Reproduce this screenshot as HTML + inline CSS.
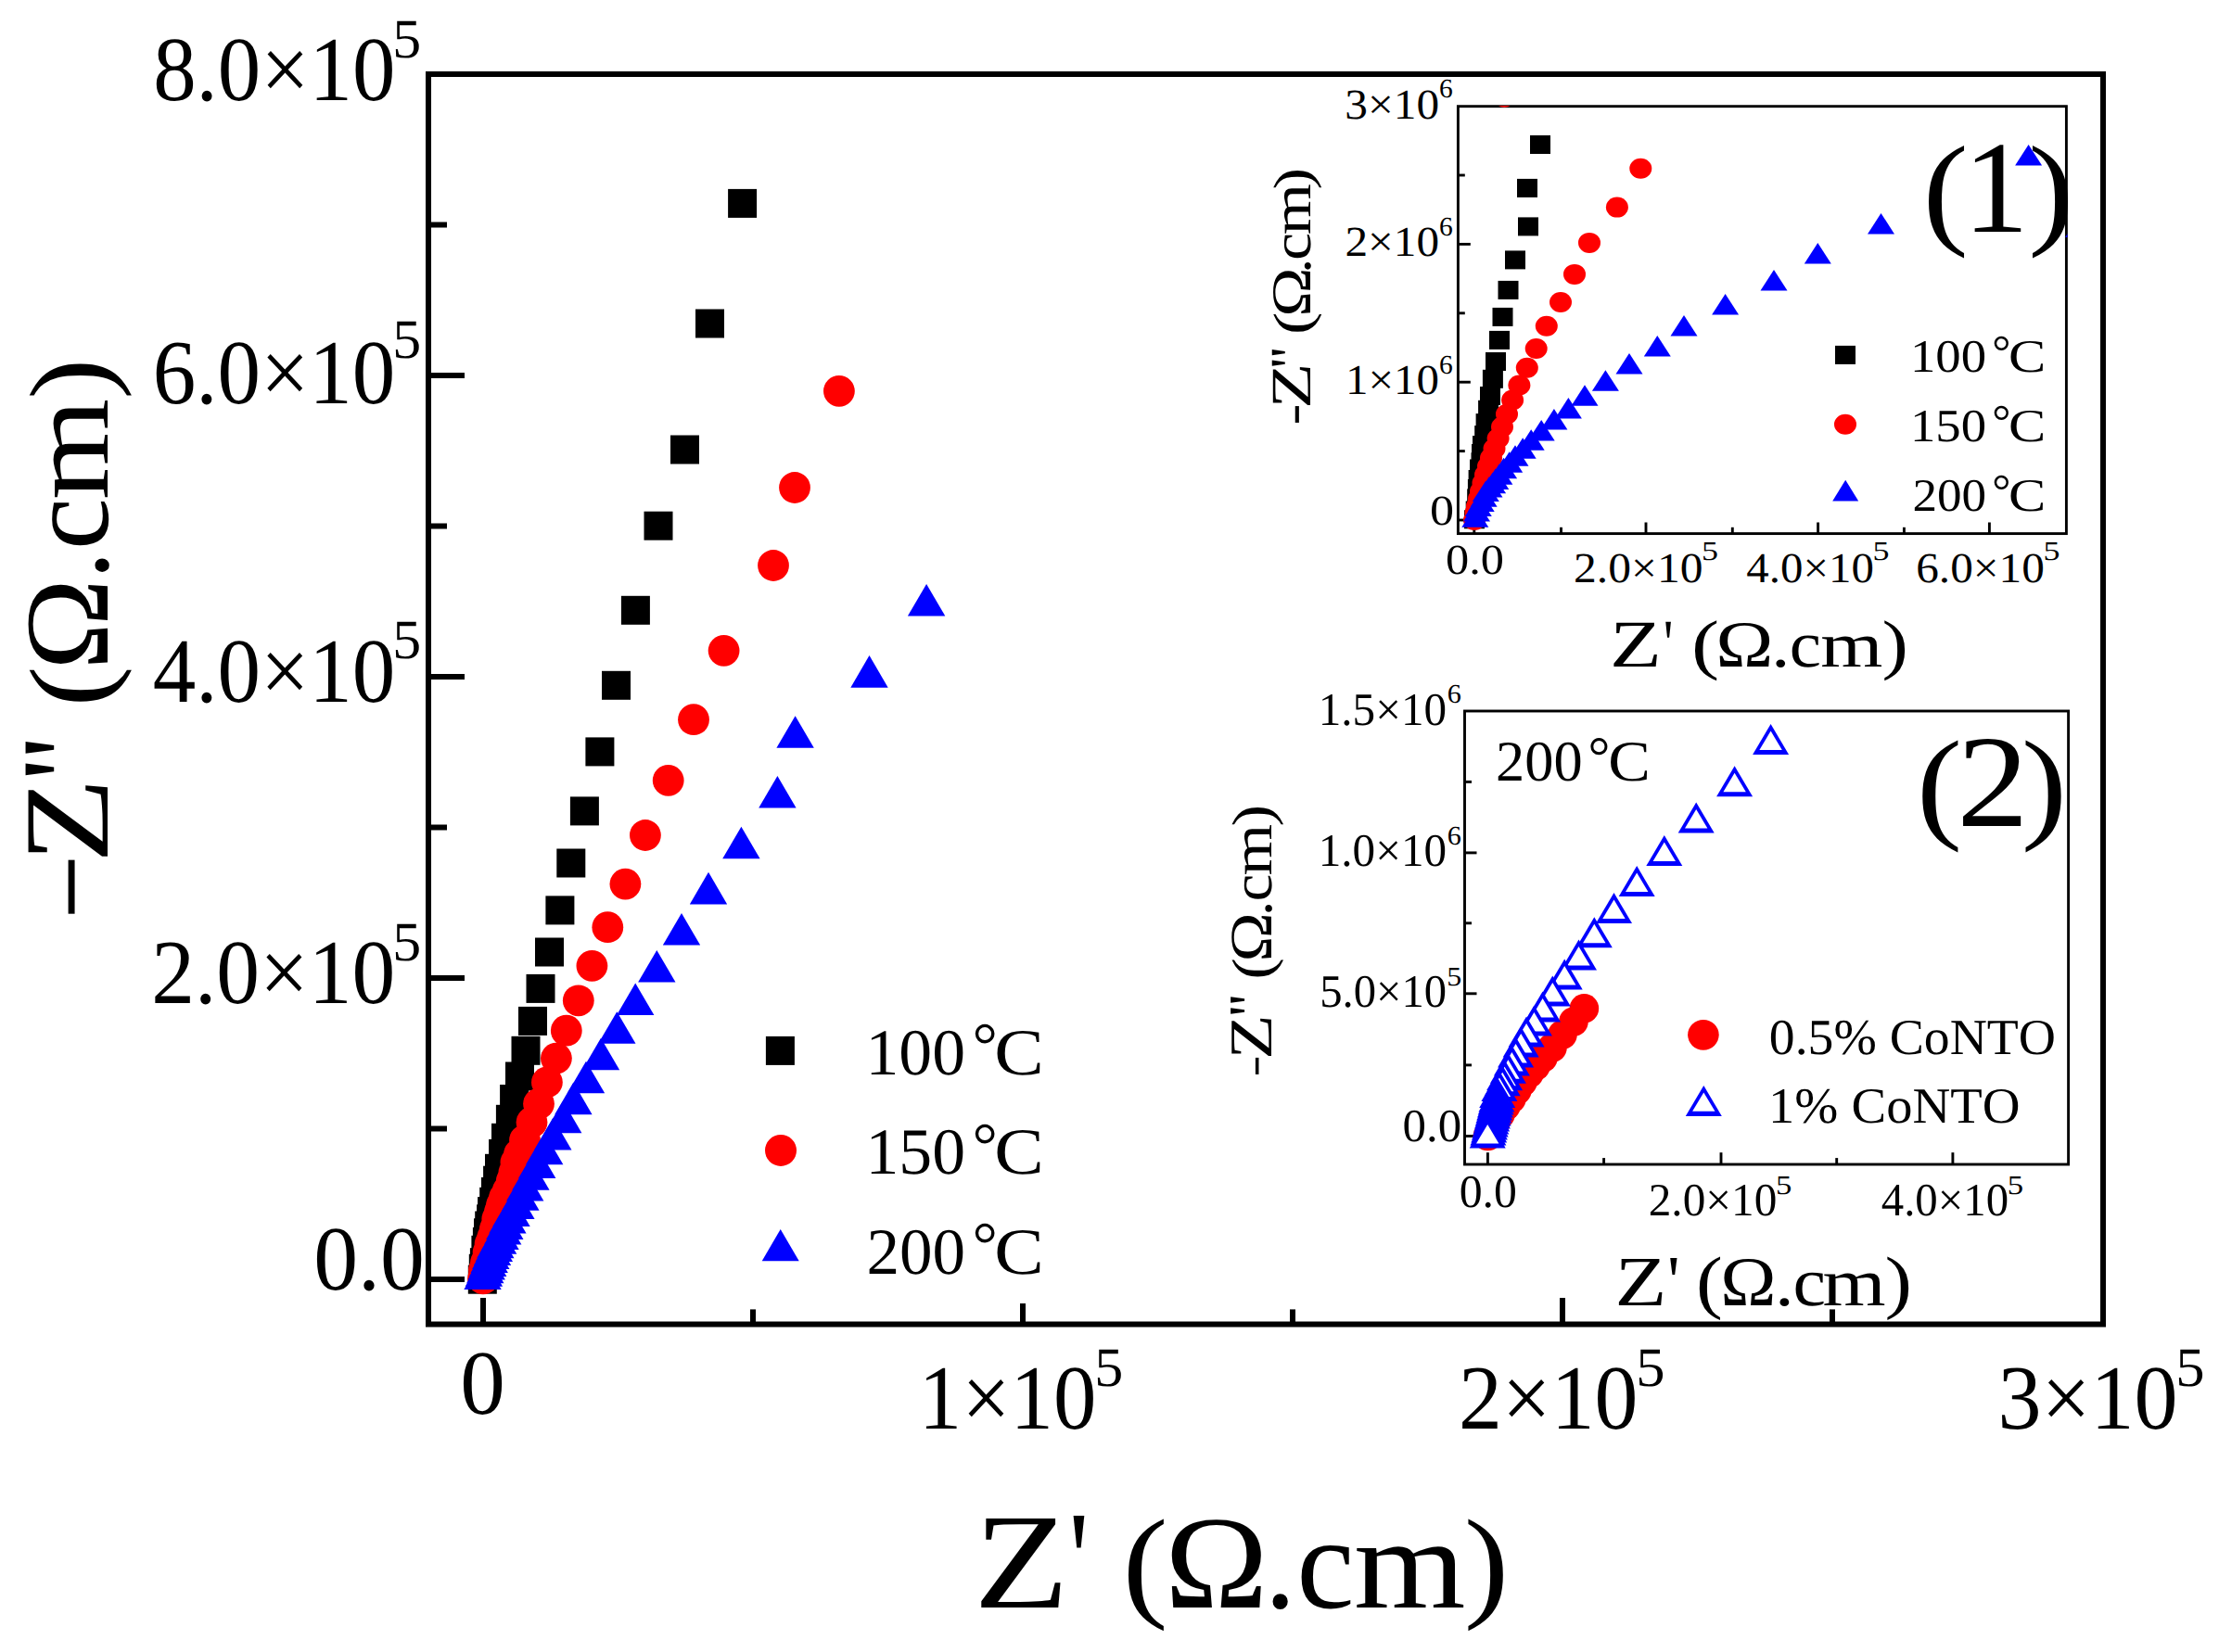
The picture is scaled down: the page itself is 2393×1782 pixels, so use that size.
<!DOCTYPE html>
<html><head><meta charset="utf-8"><title>Nyquist plot</title><style>html,body{margin:0;padding:0;background:#fff}</style></head><body>
<svg width="2393" height="1782" viewBox="0 0 2393 1782" style="display:block;font-family:'Liberation Serif',serif;font-kerning:none" text-rendering="geometricPrecision"><rect width="100%" height="100%" fill="#fff"/><rect x="462" y="80" width="1806" height="1348.5" fill="none" stroke="#000" stroke-width="6"/>
<line x1="462" y1="1380" x2="501" y2="1380" stroke="#000" stroke-width="6"/>
<line x1="462" y1="1055" x2="501" y2="1055" stroke="#000" stroke-width="6"/>
<line x1="462" y1="730" x2="501" y2="730" stroke="#000" stroke-width="6"/>
<line x1="462" y1="405" x2="501" y2="405" stroke="#000" stroke-width="6"/>
<line x1="462" y1="1217.5" x2="482" y2="1217.5" stroke="#000" stroke-width="6"/>
<line x1="462" y1="892.5" x2="482" y2="892.5" stroke="#000" stroke-width="6"/>
<line x1="462" y1="567.5" x2="482" y2="567.5" stroke="#000" stroke-width="6"/>
<line x1="462" y1="242.5" x2="482" y2="242.5" stroke="#000" stroke-width="6"/>
<line x1="521" y1="1428" x2="521" y2="1400" stroke="#000" stroke-width="6"/>
<line x1="1103" y1="1428" x2="1103" y2="1406" stroke="#000" stroke-width="6"/>
<line x1="1685" y1="1428" x2="1685" y2="1400" stroke="#000" stroke-width="6"/>
<line x1="812" y1="1428" x2="812" y2="1412.4" stroke="#000" stroke-width="6"/>
<line x1="1394" y1="1428" x2="1394" y2="1412.4" stroke="#000" stroke-width="6"/>
<line x1="1976" y1="1428" x2="1976" y2="1412.4" stroke="#000" stroke-width="6"/>
<text><tspan x="165.17" y="108.30" font-size="99.00" textLength="261.17" lengthAdjust="spacingAndGlyphs">8.0×10</tspan><tspan x="423.31" y="61.50" font-size="60.00" textLength="30.91" lengthAdjust="spacingAndGlyphs">5</tspan></text>
<text><tspan x="164.70" y="434.50" font-size="99.00" textLength="261.64" lengthAdjust="spacingAndGlyphs">6.0×10</tspan><tspan x="423.31" y="386.30" font-size="60.00" textLength="30.91" lengthAdjust="spacingAndGlyphs">5</tspan></text>
<text><tspan x="164.68" y="757.30" font-size="99.00" textLength="261.66" lengthAdjust="spacingAndGlyphs">4.0×10</tspan><tspan x="423.31" y="710.00" font-size="60.00" textLength="30.91" lengthAdjust="spacingAndGlyphs">5</tspan></text>
<text><tspan x="163.19" y="1082.30" font-size="99.00" textLength="263.17" lengthAdjust="spacingAndGlyphs">2.0×10</tspan><tspan x="423.31" y="1035.60" font-size="60.00" textLength="30.91" lengthAdjust="spacingAndGlyphs">5</tspan></text>
<text><tspan x="338.16" y="1390.80" font-size="99.00" textLength="119.59" lengthAdjust="spacingAndGlyphs">0.0</tspan></text>
<text><tspan x="496.20" y="1525.00" font-size="99.00" textLength="48.60" lengthAdjust="spacingAndGlyphs">0</tspan></text>
<text><tspan x="990.85" y="1540.80" font-size="99.00" textLength="191.49" lengthAdjust="spacingAndGlyphs">1×10</tspan><tspan x="1180.39" y="1495.40" font-size="60.00" textLength="31.03" lengthAdjust="spacingAndGlyphs">5</tspan></text>
<text><tspan x="1572.88" y="1540.80" font-size="99.00" textLength="193.59" lengthAdjust="spacingAndGlyphs">2×10</tspan><tspan x="1764.37" y="1495.40" font-size="60.00" textLength="31.28" lengthAdjust="spacingAndGlyphs">5</tspan></text>
<text><tspan x="2154.50" y="1540.80" font-size="99.00" textLength="194.08" lengthAdjust="spacingAndGlyphs">3×10</tspan><tspan x="2346.17" y="1495.40" font-size="60.00" textLength="31.28" lengthAdjust="spacingAndGlyphs">5</tspan></text>
<text><tspan x="1050.38" y="1733.60" font-size="146.60" textLength="102.39" lengthAdjust="spacingAndGlyphs">Z</tspan><tspan x="1152.49" y="1730.60" font-size="146.60" textLength="21.92" lengthAdjust="spacingAndGlyphs">'</tspan><tspan x="1173.72" y="1731.40" font-size="133.20" textLength="86.03" lengthAdjust="spacingAndGlyphs"> (</tspan><tspan x="1256.13" y="1733.60" font-size="143.00" textLength="111.54" lengthAdjust="spacingAndGlyphs">Ω</tspan><tspan x="1363.56" y="1733.60" font-size="143.00" textLength="34.27" lengthAdjust="spacingAndGlyphs">.</tspan><tspan x="1398.35" y="1733.60" font-size="142.00" textLength="62.38" lengthAdjust="spacingAndGlyphs">c</tspan><tspan x="1459.95" y="1733.60" font-size="139.50" textLength="120.58" lengthAdjust="spacingAndGlyphs">m</tspan><tspan x="1578.81" y="1731.40" font-size="133.20" textLength="48.49" lengthAdjust="spacingAndGlyphs">)</tspan></text>
<text transform="translate(116.00 986.00) rotate(-90)"><tspan x="-8.10" y="-16.60" font-size="93.00" textLength="74.48" lengthAdjust="spacingAndGlyphs">-</tspan><tspan x="55.10" y="0.00" font-size="130.50" textLength="91.93" lengthAdjust="spacingAndGlyphs">Z</tspan><tspan x="144.18" y="-3.00" font-size="130.50" textLength="47.33" lengthAdjust="spacingAndGlyphs">''</tspan><tspan x="190.50" y="0.00" font-size="121.50" textLength="76.95" lengthAdjust="spacingAndGlyphs"> (</tspan><tspan x="263.32" y="0.00" font-size="129.00" textLength="98.76" lengthAdjust="spacingAndGlyphs">Ω</tspan><tspan x="360.91" y="0.00" font-size="130.50" textLength="30.68" lengthAdjust="spacingAndGlyphs">.</tspan><tspan x="392.90" y="0.00" font-size="127.00" textLength="55.98" lengthAdjust="spacingAndGlyphs">c</tspan><tspan x="446.85" y="0.00" font-size="124.00" textLength="109.35" lengthAdjust="spacingAndGlyphs">m</tspan><tspan x="555.15" y="0.00" font-size="121.50" textLength="43.95" lengthAdjust="spacingAndGlyphs">)</tspan></text>
<g fill="#000"><rect x="785.1" y="203.9" width="31" height="31"/><rect x="750.0" y="333.5" width="31" height="31"/><rect x="723.0" y="469.5" width="31" height="31"/><rect x="694.5" y="551.7" width="31" height="31"/><rect x="669.9" y="642.8" width="31" height="31"/><rect x="649.0" y="723.8" width="31" height="31"/><rect x="631.4" y="795.4" width="31" height="31"/><rect x="614.9" y="859.4" width="31" height="31"/><rect x="600.3" y="915.5" width="31" height="31"/><rect x="588.4" y="966.4" width="31" height="31"/><rect x="577.0" y="1011.5" width="31" height="31"/><rect x="567.5" y="1050.9" width="31" height="31"/><rect x="559.0" y="1085.9" width="31" height="31"/><rect x="551.5" y="1117.8" width="31" height="31"/><rect x="545.0" y="1145.5" width="31" height="31"/><rect x="539.1" y="1170.0" width="31" height="31"/><rect x="534.9" y="1191.8" width="31" height="31"/><rect x="530.0" y="1211.8" width="31" height="31"/><rect x="527.1" y="1228.9" width="31" height="31"/><rect x="523.0" y="1244.8" width="31" height="31"/><rect x="521.1" y="1257.7" width="31" height="31"/><rect x="519.0" y="1270.0" width="31" height="31"/><rect x="517.2" y="1280.8" width="31" height="31"/><rect x="515.1" y="1291.1" width="31" height="31"/><rect x="514.1" y="1299.3" width="31" height="31"/><rect x="512.2" y="1306.5" width="31" height="31"/><rect x="511.0" y="1314.3" width="31" height="31"/><rect x="509.9" y="1324.0" width="31" height="31"/><rect x="508.4" y="1332.8" width="31" height="31"/><rect x="506.9" y="1346.2" width="31" height="31"/><rect x="505.8" y="1352.8" width="31" height="31"/><rect x="504.8" y="1364.7" width="31" height="31"/></g>
<g fill="#f00"><ellipse cx="904.9" cy="421.9" rx="16.9" ry="16.9"/><ellipse cx="857.0" cy="526.0" rx="16.9" ry="16.9"/><ellipse cx="834.0" cy="610.0" rx="16.9" ry="16.9"/><ellipse cx="780.6" cy="701.9" rx="16.9" ry="16.9"/><ellipse cx="748.0" cy="776.2" rx="16.9" ry="16.9"/><ellipse cx="720.7" cy="841.9" rx="16.9" ry="16.9"/><ellipse cx="695.9" cy="901.0" rx="16.9" ry="16.9"/><ellipse cx="674.4" cy="953.6" rx="16.9" ry="16.9"/><ellipse cx="655.3" cy="1000.2" rx="16.9" ry="16.9"/><ellipse cx="638.4" cy="1041.9" rx="16.9" ry="16.9"/><ellipse cx="623.8" cy="1079.3" rx="16.9" ry="16.9"/><ellipse cx="610.8" cy="1111.7" rx="16.9" ry="16.9"/><ellipse cx="599.9" cy="1141.6" rx="16.9" ry="16.9"/><ellipse cx="589.9" cy="1167.4" rx="16.9" ry="16.9"/><ellipse cx="581.0" cy="1190.6" rx="16.9" ry="16.9"/><ellipse cx="573.5" cy="1210.6" rx="16.9" ry="16.9"/><ellipse cx="566.0" cy="1230.0" rx="16.9" ry="16.9"/><ellipse cx="560.0" cy="1245.0" rx="16.9" ry="16.9"/><ellipse cx="556.4" cy="1254.0" rx="16.9" ry="16.9"/><ellipse cx="554.4" cy="1265.0" rx="16.9" ry="16.9"/><ellipse cx="551.8" cy="1274.0" rx="16.9" ry="16.9"/><ellipse cx="547.7" cy="1284.5" rx="16.9" ry="16.9"/><ellipse cx="544.0" cy="1292.0" rx="16.9" ry="16.9"/><ellipse cx="541.0" cy="1300.0" rx="16.9" ry="16.9"/><ellipse cx="539.0" cy="1307.0" rx="16.9" ry="16.9"/><ellipse cx="536.3" cy="1315.0" rx="16.9" ry="16.9"/><ellipse cx="533.8" cy="1326.0" rx="16.9" ry="16.9"/><ellipse cx="531.2" cy="1335.0" rx="16.9" ry="16.9"/><ellipse cx="528.6" cy="1342.0" rx="16.9" ry="16.9"/><ellipse cx="526.6" cy="1351.0" rx="16.9" ry="16.9"/><ellipse cx="524.0" cy="1362.0" rx="16.9" ry="16.9"/><ellipse cx="522.0" cy="1370.0" rx="16.9" ry="16.9"/><ellipse cx="521.0" cy="1379.4" rx="16.9" ry="16.9"/></g>
<g fill="#00f"><path d="M999.1 629.9L978.9 664.5L1019.3 664.5Z"/><path d="M937.5 707.1L917.3 741.7L957.7 741.7Z"/><path d="M857.6 772.2L837.4 806.8L877.8 806.8Z"/><path d="M838.4 837.0L818.2 871.6L858.6 871.6Z"/><path d="M799.4 891.7L779.2 926.3L819.6 926.3Z"/><path d="M764.0 940.8L743.8 975.4L784.2 975.4Z"/><path d="M735.0 985.0L714.8 1019.6L755.2 1019.6Z"/><path d="M708.3 1025.0L688.1 1059.6L728.5 1059.6Z"/><path d="M685.2 1060.4L665.0 1095.0L705.4 1095.0Z"/><path d="M665.3 1091.2L645.1 1125.8L685.5 1125.8Z"/><path d="M648.0 1119.7L627.8 1154.3L668.2 1154.3Z"/><path d="M632.0 1144.7L611.8 1179.3L652.2 1179.3Z"/><path d="M618.4 1167.6L598.2 1202.2L638.6 1202.2Z"/><path d="M607.2 1187.6L587.0 1222.2L627.4 1222.2Z"/><path d="M596.3 1205.8L576.1 1240.4L616.5 1240.4Z"/><path d="M587.2 1221.7L567.0 1256.3L607.4 1256.3Z"/><path d="M579.2 1236.4L559.0 1271.0L599.4 1271.0Z"/><path d="M572.4 1249.2L552.2 1283.8L592.6 1283.8Z"/><path d="M566.2 1261.0L546.0 1295.6L586.4 1295.6Z"/><path d="M561.4 1271.1L541.2 1305.7L581.6 1305.7Z"/><path d="M556.4 1280.4L536.2 1315.0L576.6 1315.0Z"/><path d="M551.5 1288.3L531.3 1322.9L571.7 1322.9Z"/><path d="M547.4 1296.0L527.2 1330.6L567.6 1330.6Z"/><path d="M544.3 1302.5L524.1 1337.1L564.5 1337.1Z"/><path d="M542.2 1307.9L522.0 1342.5L562.4 1342.5Z"/><path d="M539.5 1313.3L519.3 1347.9L559.7 1347.9Z"/><path d="M537.1 1318.1L516.9 1352.7L557.3 1352.7Z"/><path d="M534.3 1322.6L514.1 1357.2L554.5 1357.2Z"/><path d="M532.8 1326.4L512.6 1361.0L553.0 1361.0Z"/><path d="M531.0 1330.5L510.8 1365.1L551.2 1365.1Z"/><path d="M529.3 1334.5L509.1 1369.1L549.5 1369.1Z"/><path d="M527.7 1338.5L507.5 1373.1L547.9 1373.1Z"/><path d="M526.2 1342.3L506.0 1376.9L546.4 1376.9Z"/><path d="M524.7 1346.0L504.5 1380.6L544.9 1380.6Z"/><path d="M523.3 1349.6L503.1 1384.2L543.5 1384.2Z"/><path d="M521.9 1353.1L501.7 1387.7L542.1 1387.7Z"/><path d="M520.5 1356.5L500.3 1391.1L540.7 1391.1Z"/></g>
<g fill="#000"><rect x="825.9" y="1117.9" width="31" height="31"/></g>
<g fill="#f00"><ellipse cx="842.0" cy="1240.9" rx="17" ry="17"/></g>
<g fill="#00f"><path d="M841.7 1326.1L821.7 1360.2L861.7 1360.2Z"/></g>
<text><tspan x="933.50" y="1159.00" font-size="71.00" textLength="107.53" lengthAdjust="spacingAndGlyphs">100</tspan><tspan x="1048.53" y="1150.30" font-size="68.00" textLength="27.30" lengthAdjust="spacingAndGlyphs">°</tspan><tspan x="1072.21" y="1159.00" font-size="71.00" textLength="53.52" lengthAdjust="spacingAndGlyphs">C</tspan></text>
<text><tspan x="933.50" y="1266.35" font-size="71.00" textLength="107.53" lengthAdjust="spacingAndGlyphs">150</tspan><tspan x="1048.53" y="1257.65" font-size="68.00" textLength="27.30" lengthAdjust="spacingAndGlyphs">°</tspan><tspan x="1072.21" y="1266.35" font-size="71.00" textLength="53.52" lengthAdjust="spacingAndGlyphs">C</tspan></text>
<text><tspan x="934.38" y="1373.70" font-size="71.00" textLength="106.63" lengthAdjust="spacingAndGlyphs">200</tspan><tspan x="1048.53" y="1365.00" font-size="68.00" textLength="27.30" lengthAdjust="spacingAndGlyphs">°</tspan><tspan x="1072.21" y="1373.70" font-size="71.00" textLength="53.52" lengthAdjust="spacingAndGlyphs">C</tspan></text>
<rect x="1572.4" y="114.7" width="656" height="460.9" fill="#fff" stroke="#000" stroke-width="2.9"/>
<line x1="1572.4" y1="561" x2="1585.8" y2="561" stroke="#000" stroke-width="2.9"/>
<line x1="1572.4" y1="412.2" x2="1585.8" y2="412.2" stroke="#000" stroke-width="2.9"/>
<line x1="1572.4" y1="263.4" x2="1585.8" y2="263.4" stroke="#000" stroke-width="2.9"/>
<line x1="1572.4" y1="486.6" x2="1579.8" y2="486.6" stroke="#000" stroke-width="2.9"/>
<line x1="1572.4" y1="337.8" x2="1579.8" y2="337.8" stroke="#000" stroke-width="2.9"/>
<line x1="1572.4" y1="189" x2="1579.8" y2="189" stroke="#000" stroke-width="2.9"/>
<line x1="1589.8" y1="575.6" x2="1589.8" y2="563.5" stroke="#000" stroke-width="2.9"/>
<line x1="1775" y1="575.6" x2="1775" y2="563.5" stroke="#000" stroke-width="2.9"/>
<line x1="1960.6" y1="575.6" x2="1960.6" y2="563.5" stroke="#000" stroke-width="2.9"/>
<line x1="2145.4" y1="575.6" x2="2145.4" y2="563.5" stroke="#000" stroke-width="2.9"/>
<line x1="1683.5" y1="575.6" x2="1683.5" y2="568.8" stroke="#000" stroke-width="2.9"/>
<line x1="1868.3" y1="575.6" x2="1868.3" y2="568.8" stroke="#000" stroke-width="2.9"/>
<line x1="2053.4" y1="575.6" x2="2053.4" y2="568.8" stroke="#000" stroke-width="2.9"/>
<text><tspan x="1450.24" y="127.60" font-size="46.00" textLength="101.84" lengthAdjust="spacingAndGlyphs">3×10</tspan><tspan x="1552.03" y="105.40" font-size="29.00" textLength="14.75" lengthAdjust="spacingAndGlyphs">6</tspan></text>
<text><tspan x="1450.44" y="276.40" font-size="46.00" textLength="101.64" lengthAdjust="spacingAndGlyphs">2×10</tspan><tspan x="1552.03" y="254.20" font-size="29.00" textLength="14.75" lengthAdjust="spacingAndGlyphs">6</tspan></text>
<text><tspan x="1451.00" y="425.20" font-size="46.00" textLength="101.07" lengthAdjust="spacingAndGlyphs">1×10</tspan><tspan x="1552.03" y="403.00" font-size="29.00" textLength="14.75" lengthAdjust="spacingAndGlyphs">6</tspan></text>
<text><tspan x="1541.91" y="565.60" font-size="46.00" textLength="26.07" lengthAdjust="spacingAndGlyphs">0</tspan></text>
<text><tspan x="1558.98" y="619.40" font-size="46.00" textLength="62.94" lengthAdjust="spacingAndGlyphs">0.0</tspan></text>
<text><tspan x="1697.02" y="628.00" font-size="46.00" textLength="139.47" lengthAdjust="spacingAndGlyphs">2.0×10</tspan><tspan x="1835.01" y="603.60" font-size="29.00" textLength="18.00" lengthAdjust="spacingAndGlyphs">5</tspan></text>
<text><tspan x="1883.35" y="628.00" font-size="46.00" textLength="137.52" lengthAdjust="spacingAndGlyphs">4.0×10</tspan><tspan x="2019.41" y="603.60" font-size="29.00" textLength="18.00" lengthAdjust="spacingAndGlyphs">5</tspan></text>
<text><tspan x="2066.18" y="628.00" font-size="46.00" textLength="138.70" lengthAdjust="spacingAndGlyphs">6.0×10</tspan><tspan x="2203.41" y="603.60" font-size="29.00" textLength="18.00" lengthAdjust="spacingAndGlyphs">5</tspan></text>
<text><tspan x="1735.92" y="719.00" font-size="72.00" textLength="55.88" lengthAdjust="spacingAndGlyphs">Z</tspan><tspan x="1793.71" y="718.00" font-size="72.00" textLength="10.68" lengthAdjust="spacingAndGlyphs">'</tspan><tspan x="1801.35" y="719.00" font-size="71.60" textLength="52.66" lengthAdjust="spacingAndGlyphs"> (</tspan><tspan x="1850.37" y="719.00" font-size="71.10" textLength="62.16" lengthAdjust="spacingAndGlyphs">Ω</tspan><tspan x="1910.09" y="719.00" font-size="71.00" textLength="20.52" lengthAdjust="spacingAndGlyphs">.</tspan><tspan x="1929.86" y="719.00" font-size="71.00" textLength="34.21" lengthAdjust="spacingAndGlyphs">c</tspan><tspan x="1963.19" y="719.00" font-size="69.00" textLength="67.16" lengthAdjust="spacingAndGlyphs">m</tspan><tspan x="2029.55" y="719.00" font-size="71.60" textLength="28.40" lengthAdjust="spacingAndGlyphs">)</tspan></text>
<text transform="translate(1413.10 456.00) rotate(-90)"><tspan x="-2.46" y="-0.90" font-size="56.00" textLength="22.95" lengthAdjust="spacingAndGlyphs">-</tspan><tspan x="15.34" y="0.00" font-size="61.40" textLength="49.27" lengthAdjust="spacingAndGlyphs">Z</tspan><tspan x="58.40" y="-1.80" font-size="60.00" textLength="23.21" lengthAdjust="spacingAndGlyphs">''</tspan><tspan x="76.80" y="0.00" font-size="57.30" textLength="42.45" lengthAdjust="spacingAndGlyphs"> (</tspan><tspan x="114.29" y="0.00" font-size="60.40" textLength="53.21" lengthAdjust="spacingAndGlyphs">Ω</tspan><tspan x="160.90" y="0.00" font-size="60.00" textLength="16.29" lengthAdjust="spacingAndGlyphs">.</tspan><tspan x="175.34" y="0.00" font-size="59.70" textLength="29.83" lengthAdjust="spacingAndGlyphs">c</tspan><tspan x="202.81" y="0.00" font-size="59.70" textLength="55.20" lengthAdjust="spacingAndGlyphs">m</tspan><tspan x="251.62" y="0.00" font-size="57.30" textLength="23.60" lengthAdjust="spacingAndGlyphs">)</tspan></text>
<text><tspan x="2073.50" y="249.80" font-size="134.00" textLength="49.27" lengthAdjust="spacingAndGlyphs">(</tspan><tspan x="2117.22" y="249.80" font-size="142.00" textLength="70.44" lengthAdjust="spacingAndGlyphs">1</tspan><tspan x="2187.23" y="249.80" font-size="134.00" textLength="49.27" lengthAdjust="spacingAndGlyphs">)</tspan></text>
<clipPath id="c1"><rect x="1572.4" y="114.1" width="657.1" height="461.5"/></clipPath>
<g clip-path="url(#c1)">
<g fill="#000"><rect x="1650.0" y="146.0" width="22" height="20"/><rect x="1636.0" y="192.9" width="22" height="20"/><rect x="1637.0" y="234.4" width="22" height="20"/><rect x="1623.0" y="270.4" width="22" height="20"/><rect x="1615.5" y="302.9" width="22" height="20"/><rect x="1609.5" y="331.9" width="22" height="20"/><rect x="1606.0" y="356.9" width="22" height="20"/><rect x="1602.0" y="380.0" width="22" height="20"/><rect x="1598.9" y="398.8" width="22" height="20"/><rect x="1596.0" y="417.0" width="22" height="20"/><rect x="1594.1" y="431.8" width="22" height="20"/><rect x="1591.6" y="446.1" width="22" height="20"/><rect x="1590.2" y="459.1" width="22" height="20"/><rect x="1588.0" y="470.0" width="22" height="20"/><rect x="1587.0" y="479.0" width="22" height="20"/><rect x="1586.5" y="488.2" width="22" height="20"/><rect x="1585.0" y="495.5" width="22" height="20"/><rect x="1583.6" y="507.0" width="22" height="20"/><rect x="1582.9" y="517.0" width="22" height="20"/><rect x="1582.2" y="527.4" width="22" height="20"/><rect x="1580.7" y="540.5" width="22" height="20"/><rect x="1579.0" y="550.3" width="22" height="20"/></g>
<g fill="#f00"><ellipse cx="1622.3" cy="104.7" rx="12" ry="11"/><ellipse cx="1769.3" cy="181.7" rx="12" ry="11"/><ellipse cx="1743.9" cy="223.6" rx="12" ry="11"/><ellipse cx="1714.0" cy="261.9" rx="12" ry="11"/><ellipse cx="1698.0" cy="295.9" rx="12" ry="11"/><ellipse cx="1683.0" cy="326.0" rx="12" ry="11"/><ellipse cx="1667.8" cy="351.7" rx="12" ry="11"/><ellipse cx="1656.7" cy="376.0" rx="12" ry="11"/><ellipse cx="1646.8" cy="396.7" rx="12" ry="11"/><ellipse cx="1638.4" cy="415.5" rx="12" ry="11"/><ellipse cx="1631.1" cy="431.5" rx="12" ry="11"/><ellipse cx="1625.0" cy="446.8" rx="12" ry="11"/><ellipse cx="1620.0" cy="460.6" rx="12" ry="11"/><ellipse cx="1615.6" cy="473.0" rx="12" ry="11"/><ellipse cx="1611.5" cy="484.0" rx="12" ry="11"/><ellipse cx="1608.0" cy="494.0" rx="12" ry="11"/><ellipse cx="1605.0" cy="503.0" rx="12" ry="11"/><ellipse cx="1602.0" cy="512.0" rx="12" ry="11"/><ellipse cx="1599.5" cy="521.0" rx="12" ry="11"/><ellipse cx="1597.0" cy="530.0" rx="12" ry="11"/><ellipse cx="1595.0" cy="538.0" rx="12" ry="11"/><ellipse cx="1593.0" cy="546.0" rx="12" ry="11"/><ellipse cx="1591.5" cy="553.0" rx="12" ry="11"/><ellipse cx="1590.0" cy="561.0" rx="12" ry="11"/></g>
<g fill="#00f"><path d="M2241.6 233.6L2227.1 256.1L2256.1 256.1Z"/><path d="M2187.6 156.0L2173.1 178.5L2202.1 178.5Z"/><path d="M2028.5 229.9L2014.0 252.4L2043.0 252.4Z"/><path d="M1960.3 262.1L1945.8 284.6L1974.8 284.6Z"/><path d="M1913.0 291.0L1898.5 313.5L1927.5 313.5Z"/><path d="M1860.6 317.1L1846.1 339.6L1875.1 339.6Z"/><path d="M1816.0 340.0L1801.5 362.5L1830.5 362.5Z"/><path d="M1787.3 362.1L1772.8 384.6L1801.8 384.6Z"/><path d="M1757.0 381.1L1742.5 403.6L1771.5 403.6Z"/><path d="M1731.4 399.3L1716.9 421.8L1745.9 421.8Z"/><path d="M1709.0 415.3L1694.5 437.8L1723.5 437.8Z"/><path d="M1691.4 428.9L1676.9 451.4L1705.9 451.4Z"/><path d="M1675.9 441.0L1661.4 463.5L1690.4 463.5Z"/><path d="M1662.2 453.0L1647.7 475.5L1676.7 475.5Z"/><path d="M1651.2 463.2L1636.7 485.7L1665.7 485.7Z"/><path d="M1642.2 472.2L1627.7 494.7L1656.7 494.7Z"/><path d="M1634.0 480.2L1619.5 502.7L1648.5 502.7Z"/><path d="M1627.7 487.3L1613.2 509.8L1642.2 509.8Z"/><path d="M1621.6 493.8L1607.1 516.3L1636.1 516.3Z"/><path d="M1616.9 500.3L1602.4 522.8L1631.4 522.8Z"/><path d="M1612.8 505.4L1598.3 527.9L1627.3 527.9Z"/><path d="M1609.6 509.8L1595.1 532.3L1624.1 532.3Z"/><path d="M1606.0 514.1L1591.5 536.6L1620.5 536.6Z"/><path d="M1602.3 518.5L1587.8 541.0L1616.8 541.0Z"/><path d="M1600.1 524.3L1585.6 546.8L1614.6 546.8Z"/><path d="M1597.2 529.4L1582.7 551.9L1611.7 551.9Z"/><path d="M1594.3 534.5L1579.8 557.0L1608.8 557.0Z"/><path d="M1592.5 540.0L1578.0 562.5L1607.0 562.5Z"/><path d="M1590.8 546.3L1576.3 568.8L1605.3 568.8Z"/></g>
</g>
<g fill="#000"><rect x="1979.0" y="372.9" width="22" height="20"/></g>
<g fill="#f00"><ellipse cx="1990.0" cy="457.8" rx="12" ry="11"/></g>
<g fill="#00f"><path d="M1990.2 517.7L1976.2 540.6L2004.2 540.6Z"/></g>
<text><tspan x="2059.98" y="401.20" font-size="50.00" textLength="82.20" lengthAdjust="spacingAndGlyphs">100</tspan><tspan x="2148.39" y="395.80" font-size="50.00" textLength="20.18" lengthAdjust="spacingAndGlyphs">°</tspan><tspan x="2166.12" y="401.20" font-size="50.00" textLength="40.31" lengthAdjust="spacingAndGlyphs">C</tspan></text>
<text><tspan x="2059.98" y="476.10" font-size="50.00" textLength="82.20" lengthAdjust="spacingAndGlyphs">150</tspan><tspan x="2148.39" y="470.70" font-size="50.00" textLength="20.18" lengthAdjust="spacingAndGlyphs">°</tspan><tspan x="2166.12" y="476.10" font-size="50.00" textLength="40.31" lengthAdjust="spacingAndGlyphs">C</tspan></text>
<text><tspan x="2062.47" y="551.00" font-size="50.00" textLength="79.66" lengthAdjust="spacingAndGlyphs">200</tspan><tspan x="2148.39" y="545.60" font-size="50.00" textLength="20.18" lengthAdjust="spacingAndGlyphs">°</tspan><tspan x="2166.12" y="551.00" font-size="50.00" textLength="40.31" lengthAdjust="spacingAndGlyphs">C</tspan></text>
<rect x="1579.5" y="767" width="651.1" height="489" fill="#fff" stroke="#000" stroke-width="2.9"/>
<line x1="1579.5" y1="1225.5" x2="1592.5" y2="1225.5" stroke="#000" stroke-width="2.9"/>
<line x1="1579.5" y1="1071.8" x2="1592.5" y2="1071.8" stroke="#000" stroke-width="2.9"/>
<line x1="1579.5" y1="919.9" x2="1592.5" y2="919.9" stroke="#000" stroke-width="2.9"/>
<line x1="1579.5" y1="1148.9" x2="1587" y2="1148.9" stroke="#000" stroke-width="2.9"/>
<line x1="1579.5" y1="995.8" x2="1587" y2="995.8" stroke="#000" stroke-width="2.9"/>
<line x1="1579.5" y1="843.4" x2="1587" y2="843.4" stroke="#000" stroke-width="2.9"/>
<line x1="1604.4" y1="1256" x2="1604.4" y2="1243.2" stroke="#000" stroke-width="2.9"/>
<line x1="1856" y1="1256" x2="1856" y2="1243.2" stroke="#000" stroke-width="2.9"/>
<line x1="2105.9" y1="1256" x2="2105.9" y2="1243.2" stroke="#000" stroke-width="2.9"/>
<line x1="1729.6" y1="1256" x2="1729.6" y2="1249.1" stroke="#000" stroke-width="2.9"/>
<line x1="1980.7" y1="1256" x2="1980.7" y2="1249.1" stroke="#000" stroke-width="2.9"/>
<text><tspan x="1421.68" y="781.50" font-size="50.00" textLength="138.40" lengthAdjust="spacingAndGlyphs">1.5×10</tspan><tspan x="1560.80" y="758.00" font-size="29.00" textLength="15.10" lengthAdjust="spacingAndGlyphs">6</tspan></text>
<text><tspan x="1421.68" y="934.40" font-size="50.00" textLength="138.40" lengthAdjust="spacingAndGlyphs">1.0×10</tspan><tspan x="1560.80" y="910.90" font-size="29.00" textLength="15.10" lengthAdjust="spacingAndGlyphs">6</tspan></text>
<text><tspan x="1423.17" y="1086.30" font-size="50.00" textLength="136.88" lengthAdjust="spacingAndGlyphs">5.0×10</tspan><tspan x="1560.24" y="1062.80" font-size="29.00" textLength="16.01" lengthAdjust="spacingAndGlyphs">5</tspan></text>
<text><tspan x="1512.56" y="1231.30" font-size="50.00" textLength="63.68" lengthAdjust="spacingAndGlyphs">0.0</tspan></text>
<text><tspan x="1573.71" y="1302.20" font-size="50.00" textLength="62.19" lengthAdjust="spacingAndGlyphs">0.0</tspan></text>
<text><tspan x="1777.73" y="1310.70" font-size="50.00" textLength="138.64" lengthAdjust="spacingAndGlyphs">2.0×10</tspan><tspan x="1914.98" y="1287.50" font-size="29.00" textLength="17.38" lengthAdjust="spacingAndGlyphs">5</tspan></text>
<text><tspan x="2028.75" y="1310.70" font-size="50.00" textLength="137.41" lengthAdjust="spacingAndGlyphs">4.0×10</tspan><tspan x="2164.78" y="1287.50" font-size="29.00" textLength="17.38" lengthAdjust="spacingAndGlyphs">5</tspan></text>
<text><tspan x="1741.62" y="1407.90" font-size="76.30" textLength="55.88" lengthAdjust="spacingAndGlyphs">Z</tspan><tspan x="1797.91" y="1406.90" font-size="76.30" textLength="13.67" lengthAdjust="spacingAndGlyphs">'</tspan><tspan x="1807.39" y="1407.90" font-size="75.70" textLength="50.39" lengthAdjust="spacingAndGlyphs"> (</tspan><tspan x="1855.30" y="1407.90" font-size="75.50" textLength="60.30" lengthAdjust="spacingAndGlyphs">Ω</tspan><tspan x="1914.03" y="1407.90" font-size="75.00" textLength="20.73" lengthAdjust="spacingAndGlyphs">.</tspan><tspan x="1933.55" y="1407.90" font-size="75.00" textLength="35.51" lengthAdjust="spacingAndGlyphs">c</tspan><tspan x="1965.56" y="1407.90" font-size="73.00" textLength="68.11" lengthAdjust="spacingAndGlyphs">m</tspan><tspan x="2032.64" y="1407.90" font-size="75.70" textLength="29.56" lengthAdjust="spacingAndGlyphs">)</tspan></text>
<text transform="translate(1371.00 1160.00) rotate(-90)"><tspan x="-1.57" y="-3.60" font-size="48.00" textLength="23.08" lengthAdjust="spacingAndGlyphs">-</tspan><tspan x="17.22" y="0.00" font-size="65.30" textLength="48.31" lengthAdjust="spacingAndGlyphs">Z</tspan><tspan x="63.49" y="-2.00" font-size="64.00" textLength="24.12" lengthAdjust="spacingAndGlyphs">''</tspan><tspan x="85.90" y="0.00" font-size="61.30" textLength="40.86" lengthAdjust="spacingAndGlyphs"> (</tspan><tspan x="122.49" y="0.00" font-size="64.60" textLength="53.21" lengthAdjust="spacingAndGlyphs">Ω</tspan><tspan x="171.79" y="0.00" font-size="64.00" textLength="16.71" lengthAdjust="spacingAndGlyphs">.</tspan><tspan x="187.67" y="0.00" font-size="62.00" textLength="29.47" lengthAdjust="spacingAndGlyphs">c</tspan><tspan x="215.50" y="0.00" font-size="61.80" textLength="55.62" lengthAdjust="spacingAndGlyphs">m</tspan><tspan x="268.60" y="0.00" font-size="61.30" textLength="23.73" lengthAdjust="spacingAndGlyphs">)</tspan></text>
<text><tspan x="1613.06" y="841.80" font-size="62.00" textLength="93.51" lengthAdjust="spacingAndGlyphs">200</tspan><tspan x="1712.54" y="835.72" font-size="60.00" textLength="23.87" lengthAdjust="spacingAndGlyphs">°</tspan><tspan x="1734.20" y="841.80" font-size="62.00" textLength="45.57" lengthAdjust="spacingAndGlyphs">C</tspan></text>
<text><tspan x="2066.78" y="890.70" font-size="133.50" textLength="49.40" lengthAdjust="spacingAndGlyphs">(</tspan><tspan x="2110.39" y="890.70" font-size="142.00" textLength="77.45" lengthAdjust="spacingAndGlyphs">2</tspan><tspan x="2179.82" y="890.70" font-size="133.50" textLength="49.40" lengthAdjust="spacingAndGlyphs">)</tspan></text>
<g fill="#f00"><ellipse cx="1708.4" cy="1087.8" rx="15.8" ry="15.8"/><ellipse cx="1697.0" cy="1102.0" rx="15.8" ry="15.8"/><ellipse cx="1685.0" cy="1116.0" rx="15.8" ry="15.8"/><ellipse cx="1674.0" cy="1130.0" rx="15.8" ry="15.8"/><ellipse cx="1664.0" cy="1141.0" rx="15.8" ry="15.8"/><ellipse cx="1656.0" cy="1150.0" rx="15.8" ry="15.8"/><ellipse cx="1649.0" cy="1158.0" rx="15.8" ry="15.8"/><ellipse cx="1642.0" cy="1167.0" rx="15.8" ry="15.8"/><ellipse cx="1636.0" cy="1176.0" rx="15.8" ry="15.8"/><ellipse cx="1630.0" cy="1185.0" rx="15.8" ry="15.8"/><ellipse cx="1624.0" cy="1193.0" rx="15.8" ry="15.8"/><ellipse cx="1618.0" cy="1202.0" rx="15.8" ry="15.8"/><ellipse cx="1613.0" cy="1210.0" rx="15.8" ry="15.8"/><ellipse cx="1608.6" cy="1218.0" rx="15.8" ry="15.8"/><ellipse cx="1604.4" cy="1225.5" rx="15.8" ry="15.8"/></g>
<g><path fill="#00f" d="M1909.6 781.0L1890.1 814.0L1929.1 814.0Z"/><path fill="#fff" d="M1909.6 788.5L1897.4 809.0L1921.8 809.0Z"/><path fill="#00f" d="M1870.6 826.2L1851.1 859.2L1890.1 859.2Z"/><path fill="#fff" d="M1870.6 833.7L1858.4 854.2L1882.8 854.2Z"/><path fill="#00f" d="M1829.2 865.6L1809.7 898.6L1848.7 898.6Z"/><path fill="#fff" d="M1829.2 873.1L1817.0 893.6L1841.4 893.6Z"/><path fill="#00f" d="M1794.8 901.1L1775.3 934.1L1814.3 934.1Z"/><path fill="#fff" d="M1794.8 908.6L1782.6 929.1L1807.0 929.1Z"/><path fill="#00f" d="M1765.2 934.1L1745.7 967.1L1784.7 967.1Z"/><path fill="#fff" d="M1765.2 941.6L1753.0 962.1L1777.4 962.1Z"/><path fill="#00f" d="M1740.5 963.0L1721.0 996.0L1760.0 996.0Z"/><path fill="#fff" d="M1740.5 970.5L1728.3 991.0L1752.7 991.0Z"/><path fill="#00f" d="M1719.3 989.2L1699.8 1022.2L1738.8 1022.2Z"/><path fill="#fff" d="M1719.3 996.7L1707.1 1017.2L1731.5 1017.2Z"/><path fill="#00f" d="M1702.5 1013.6L1683.0 1046.6L1722.0 1046.6Z"/><path fill="#fff" d="M1702.5 1021.1L1690.3 1041.6L1714.7 1041.6Z"/><path fill="#00f" d="M1687.2 1034.4L1667.7 1067.4L1706.7 1067.4Z"/><path fill="#fff" d="M1687.2 1041.9L1675.0 1062.4L1699.4 1062.4Z"/><path fill="#00f" d="M1674.3 1052.6L1654.8 1085.6L1693.8 1085.6Z"/><path fill="#fff" d="M1674.3 1060.1L1662.1 1080.6L1686.5 1080.6Z"/><path fill="#00f" d="M1663.6 1069.5L1644.1 1102.5L1683.1 1102.5Z"/><path fill="#fff" d="M1663.6 1077.0L1651.4 1097.5L1675.8 1097.5Z"/><path fill="#00f" d="M1654.4 1084.4L1634.9 1117.4L1673.9 1117.4Z"/><path fill="#fff" d="M1654.4 1091.9L1642.2 1112.4L1666.6 1112.4Z"/><path fill="#00f" d="M1646.1 1096.5L1626.6 1129.5L1665.6 1129.5Z"/><path fill="#fff" d="M1646.1 1104.0L1633.9 1124.5L1658.2 1124.5Z"/><path fill="#00f" d="M1640.2 1107.5L1620.7 1140.5L1659.7 1140.5Z"/><path fill="#fff" d="M1640.2 1115.0L1628.0 1135.5L1652.4 1135.5Z"/><path fill="#00f" d="M1634.6 1118.5L1615.1 1151.5L1654.1 1151.5Z"/><path fill="#fff" d="M1634.6 1126.0L1622.4 1146.5L1646.8 1146.5Z"/><path fill="#00f" d="M1630.4 1127.5L1610.9 1160.5L1649.9 1160.5Z"/><path fill="#fff" d="M1630.4 1135.0L1618.2 1155.5L1642.6 1155.5Z"/><path fill="#00f" d="M1626.4 1135.8L1606.9 1168.8L1645.9 1168.8Z"/><path fill="#fff" d="M1626.4 1143.3L1614.2 1163.8L1638.6 1163.8Z"/><path fill="#00f" d="M1622.6 1143.2L1603.1 1176.2L1642.1 1176.2Z"/><path fill="#fff" d="M1622.6 1150.7L1610.4 1171.2L1634.8 1171.2Z"/><path fill="#00f" d="M1620.2 1149.2L1600.7 1182.2L1639.7 1182.2Z"/><path fill="#fff" d="M1620.2 1156.7L1608.0 1177.2L1632.4 1177.2Z"/><path fill="#00f" d="M1616.9 1155.1L1597.4 1188.1L1636.4 1188.1Z"/><path fill="#fff" d="M1616.9 1162.6L1604.8 1183.1L1629.1 1183.1Z"/><path fill="#00f" d="M1614.7 1161.9L1595.2 1194.9L1634.2 1194.9Z"/><path fill="#fff" d="M1614.7 1169.4L1602.5 1189.9L1626.9 1189.9Z"/><path fill="#00f" d="M1613.9 1166.6L1594.4 1199.6L1633.4 1199.6Z"/><path fill="#fff" d="M1613.9 1174.1L1601.8 1194.6L1626.1 1194.6Z"/><path fill="#00f" d="M1613.2 1169.6L1593.7 1202.6L1632.7 1202.6Z"/><path fill="#fff" d="M1613.2 1177.1L1601.0 1197.6L1625.3 1197.6Z"/><path fill="#00f" d="M1612.4 1172.6L1592.9 1205.6L1631.9 1205.6Z"/><path fill="#fff" d="M1612.4 1180.1L1600.3 1200.6L1624.6 1200.6Z"/><path fill="#00f" d="M1611.7 1175.6L1592.2 1208.6L1631.2 1208.6Z"/><path fill="#fff" d="M1611.7 1183.1L1599.5 1203.6L1623.8 1203.6Z"/><path fill="#00f" d="M1610.9 1178.6L1591.4 1211.6L1630.4 1211.6Z"/><path fill="#fff" d="M1610.9 1186.1L1598.8 1206.6L1623.1 1206.6Z"/><path fill="#00f" d="M1610.2 1181.6L1590.7 1214.6L1629.7 1214.6Z"/><path fill="#fff" d="M1610.2 1189.1L1598.0 1209.6L1622.3 1209.6Z"/><path fill="#00f" d="M1609.4 1184.6L1589.9 1217.6L1628.9 1217.6Z"/><path fill="#fff" d="M1609.4 1192.1L1597.3 1212.6L1621.6 1212.6Z"/><path fill="#00f" d="M1608.7 1187.5L1589.2 1220.5L1628.2 1220.5Z"/><path fill="#fff" d="M1608.7 1195.0L1596.5 1215.5L1620.8 1215.5Z"/><path fill="#00f" d="M1607.9 1190.5L1588.4 1223.5L1627.4 1223.5Z"/><path fill="#fff" d="M1607.9 1198.0L1595.8 1218.5L1620.1 1218.5Z"/><path fill="#00f" d="M1607.2 1193.5L1587.7 1226.5L1626.7 1226.5Z"/><path fill="#fff" d="M1607.2 1201.0L1595.0 1221.5L1619.3 1221.5Z"/><path fill="#00f" d="M1606.4 1196.5L1586.9 1229.5L1625.9 1229.5Z"/><path fill="#fff" d="M1606.4 1204.0L1594.3 1224.5L1618.6 1224.5Z"/><path fill="#00f" d="M1605.7 1199.5L1586.2 1232.5L1625.2 1232.5Z"/><path fill="#fff" d="M1605.7 1207.0L1593.5 1227.5L1617.8 1227.5Z"/><path fill="#00f" d="M1604.9 1202.5L1585.4 1235.5L1624.4 1235.5Z"/><path fill="#fff" d="M1604.9 1210.0L1592.8 1230.5L1617.1 1230.5Z"/><path fill="#00f" d="M1604.2 1205.5L1584.7 1238.5L1623.7 1238.5Z"/><path fill="#fff" d="M1604.2 1213.0L1592.0 1233.5L1616.4 1233.5Z"/></g>
<g fill="#f00"><ellipse cx="1836.9" cy="1116.3" rx="16.8" ry="16.4"/></g>
<g><path fill="#00f" d="M1837.3 1170.9L1817.8 1203.9L1856.8 1203.9Z"/><path fill="#fff" d="M1837.3 1178.4L1825.1 1198.7L1849.5 1198.7Z"/></g>
<text><tspan x="1907.88" y="1137.00" font-size="54.50" textLength="309.20" lengthAdjust="spacingAndGlyphs">0.5% CoNTO</tspan></text>
<text><tspan x="1907.03" y="1211.40" font-size="54.50" textLength="271.48" lengthAdjust="spacingAndGlyphs">1% CoNTO</tspan></text></svg>
</body></html>
